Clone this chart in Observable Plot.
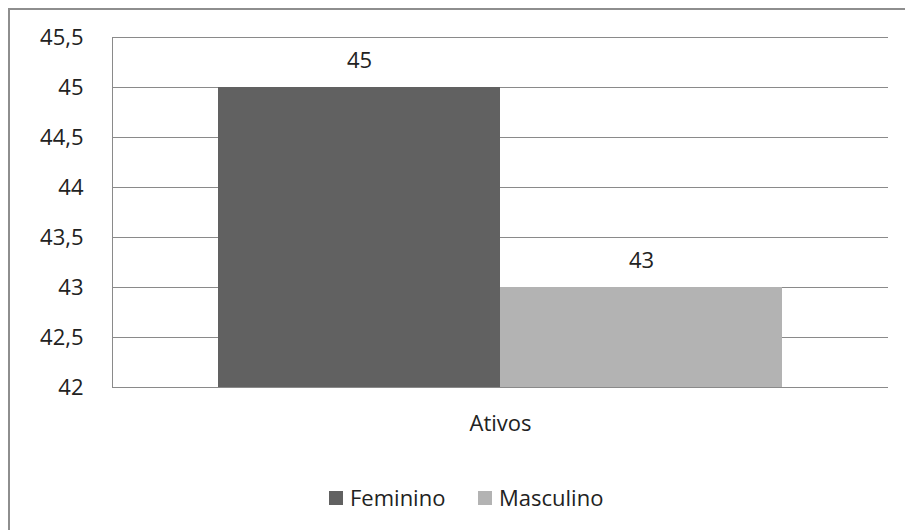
<!DOCTYPE html>
<html>
<head>
<meta charset="utf-8">
<script src="https://cdn.jsdelivr.net/npm/d3@7"></script>
<script src="https://cdn.jsdelivr.net/npm/@observablehq/plot@0.6"></script>
<style>
  html, body { margin: 0; padding: 0; background: #fff; }
  body { width: 905px; height: 530px; overflow: hidden; position: relative; font-family: "Open Sans", sans-serif; color: #222; }
  #frame { position: absolute; left: 8px; top: 8px; width: 920px; height: 560px; border-top: 2px solid #8e8e8e; border-left: 2px solid #8e8e8e; }
  #chart { position: absolute; left: 0; top: 0; }
  #legend { position: absolute; left: 0; top: 482px; width: 905px; height: 30px; }
  .item { position: absolute; top: 0; height: 30px; font-size: 22px; line-height: 30px; white-space: nowrap; }
  .sw { position: absolute; top: 9px; left: 0; width: 14px; height: 14px; }
  .lbl { position: absolute; top: 0; left: 21px; }
</style>
</head>
<body>
<div id="frame"></div>
<div id="chart"></div>
<div id="legend"></div>
<script>
const category = "Ativos";
const genders = ["Feminino", "Masculino"];
const values = [45, 43];
const colors = ["#616161", "#b3b3b3"];
const yTicks = [42, 42.5, 43, 43.5, 44, 44.5, 45, 45.5];

const data = genders.map((g, i) => ({ gender: g, value: values[i] }));
const fmt = d => String(d).replace(".", ",");

const chart = Plot.plot({
  width: 905,
  height: 460,
  marginTop: 37,
  marginBottom: 73,
  marginLeft: 112,
  marginRight: 17,
  style: { fontFamily: "Open Sans, sans-serif", fontSize: "22px", background: "transparent", color: "#222" },
  x: { domain: genders, paddingInner: 0, paddingOuter: 0.372, axis: null },
  y: { domain: [42, 45.5], axis: null },
  color: { domain: genders, range: colors },
  marks: [
    Plot.ruleY(yTicks, { stroke: "#8a8a8a", strokeWidth: 1 }),
    Plot.barY(data, { x: "gender", y1: 42, y2: "value", fill: "gender", inset: 0 }),
    Plot.frame({ anchor: "left", stroke: "#8a8a8a" }),
    Plot.axisY(yTicks, { tickSize: 0, tickPadding: 29, tickFormat: fmt, label: null, fontSize: 22, fill: "#222" }),
    Plot.text(data, { x: "gender", y: "value", text: d => fmt(d.value), dy: -27, fontSize: 22, fill: "#222" }),
    Plot.text([category], { frameAnchor: "bottom", dy: 43, text: d => d, fontSize: 22, fill: "#222" })
  ]
});
document.getElementById("chart").appendChild(chart);

const legend = document.getElementById("legend");
const legendX = [329, 478];
genders.forEach((g, i) => {
  const item = document.createElement("div");
  item.className = "item";
  item.style.left = legendX[i] + "px";
  const sw = document.createElement("span");
  sw.className = "sw";
  sw.style.background = colors[i];
  const lbl = document.createElement("span");
  lbl.className = "lbl";
  lbl.textContent = g;
  item.appendChild(sw);
  item.appendChild(lbl);
  legend.appendChild(item);
});
</script>
</body>
</html>
